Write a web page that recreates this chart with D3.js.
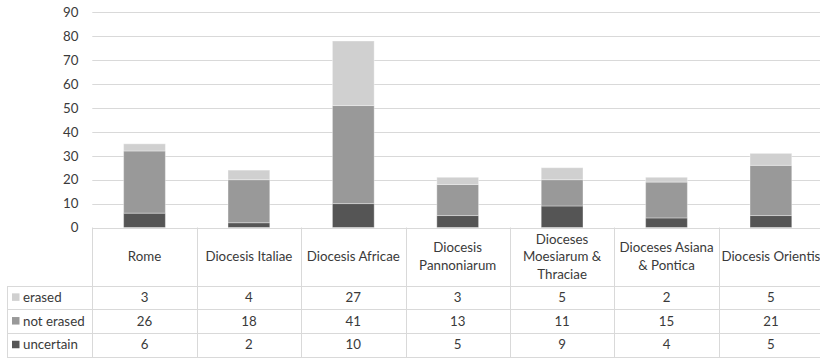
<!DOCTYPE html>
<html>
<head>
<meta charset="utf-8">
<script src="https://cdn.jsdelivr.net/npm/d3@7"></script>
<style>
  html, body { margin: 0; padding: 0; background: #fff; }
  svg { display: block; font-family: Lato, "Open Sans", sans-serif; }
</style>
</head>
<body>
<svg id="chart" width="820" height="359"></svg>
<script>
// Regions (column headers, wrapped as they appear in the table)
const categories = ["Rome", "Diocesis Italiae", "Diocesis Africae", "Diocesis Pannoniarum",
  "Dioceses Moesiarum & Thraciae", "Dioceses Asiana & Pontica", "Diocesis Orientis"];
const headerLines = [["Rome"], ["Diocesis Italiae"], ["Diocesis Africae"], ["Diocesis", "Pannoniarum"],
  ["Dioceses", "Moesiarum &", "Thraciae"], ["Dioceses Asiana", "& Pontica"], ["Diocesis Orientis"]];

// Series (table order: top row first)
const seriesNames = ["erased", "not erased", "uncertain"];
const erased     = [3, 4, 27, 3, 5, 2, 5];
const notErased  = [26, 18, 41, 13, 11, 15, 21];
const uncertain  = [6, 2, 10, 5, 9, 4, 5];
const seriesColors = ["#d0d0d0", "#999999", "#555555"];

const yTicks = [0, 10, 20, 30, 40, 50, 60, 70, 80, 90];

const seriesValues = { "erased": erased, "not erased": notErased, "uncertain": uncertain };
const rows = categories.map((c, i) => ({ cat: c, "erased": erased[i], "not erased": notErased[i], "uncertain": uncertain[i] }));

const svg = d3.select("#chart");
const textColor = "#3a3a3a";
const lineColor = "#d9d9d9";
const fontSize = 13.3;

// Geometry
const plotLeft = 92.3, plotRight = 823.1;
const yZero = 227.5, yTop = 12.3;
const tableLeft = 7;
const headerBottom = 285.5;
const rowH = 23.7;

const x = d3.scaleBand().domain(categories).range([plotLeft, plotRight]).paddingInner(0.6).paddingOuter(0.3);
const col = d3.scaleBand().domain(categories).range([plotLeft, plotRight]).padding(0);
const y = d3.scaleLinear().domain([0, 90]).range([yZero, yTop]);

// Gridlines
svg.append("g").selectAll("line").data(yTicks).join("line")
  .attr("x1", plotLeft).attr("x2", 820)
  .attr("y1", d => Math.round(y(d)) + 0.5).attr("y2", d => Math.round(y(d)) + 0.5)
  .attr("stroke", lineColor).attr("stroke-width", 1);

// Y axis labels
const yAxis = d3.axisLeft(y).tickValues(yTicks).tickSize(0).tickPadding(0);
const gy = svg.append("g").attr("transform", "translate(78.5,0)").call(yAxis);
gy.select(".domain").remove();
gy.selectAll("text").attr("fill", textColor).style("font-size", fontSize + "px").style("font-family", "Lato, sans-serif");

// Stacked bars: uncertain at bottom, then not erased, then erased
const stackOrder = ["uncertain", "not erased", "erased"];
const stacked = d3.stack().keys(stackOrder)(rows);
svg.append("g").selectAll("g").data(stacked).join("g")
  .attr("fill", d => seriesColors[seriesNames.indexOf(d.key)])
  .selectAll("rect").data(d => d).join("rect")
  .attr("x", d => x(d.data.cat))
  .attr("width", x.bandwidth())
  .attr("y", d => y(d[1]))
  .attr("height", d => y(d[0]) - y(d[1]))
  .attr("stroke", "rgba(255,255,255,0.35)")
  .attr("stroke-width", 1);

// Data table
const table = svg.append("g");
const rowTops = seriesNames.map((s, i) => headerBottom + i * rowH);
const bottom = headerBottom + seriesNames.length * rowH;

// Horizontal rules
[headerBottom, ...rowTops.map(t => t + rowH)].forEach(yy => {
  table.append("line").attr("x1", tableLeft).attr("x2", 820)
    .attr("y1", Math.round(yy) + 0.5).attr("y2", Math.round(yy) + 0.5)
    .attr("stroke", lineColor);
});
// Vertical rules
table.append("line").attr("x1", tableLeft + 0.5).attr("x2", tableLeft + 0.5)
  .attr("y1", Math.round(headerBottom) + 0.5).attr("y2", Math.round(bottom) + 0.5).attr("stroke", lineColor);
categories.forEach(c => {
  const xx = Math.round(col(c)) + 0.5;
  table.append("line").attr("x1", xx).attr("x2", xx)
    .attr("y1", yZero).attr("y2", Math.round(bottom) + 0.5).attr("stroke", lineColor);
});

// Header cells
const lineH = 17.5;
categories.forEach((c, i) => {
  const lines = headerLines[i];
  const cx = col(c) + col.bandwidth() / 2;
  const cy = (yZero + headerBottom) / 2;
  const t = table.append("text").attr("text-anchor", "middle").attr("fill", textColor)
    .style("font-size", fontSize + "px");
  lines.forEach((ln, k) => {
    t.append("tspan").attr("x", cx)
      .attr("y", cy + (k - (lines.length - 1) / 2) * lineH)
      .attr("dy", "0.35em").text(ln);
  });
});

// Row labels with legend keys, and values
seriesNames.forEach((s, r) => {
  const cy = rowTops[r] + rowH / 2;
  table.append("rect").attr("x", 12).attr("y", cy - 4).attr("width", 7.5).attr("height", 7.5)
    .attr("fill", seriesColors[r]);
  table.append("text").attr("x", 23).attr("y", cy).attr("dy", "0.35em")
    .attr("fill", textColor).style("font-size", fontSize + "px").text(s);
  seriesValues[s].forEach((v, i) => {
    table.append("text").attr("x", col(categories[i]) + col.bandwidth() / 2).attr("y", cy)
      .attr("dy", "0.35em").attr("text-anchor", "middle")
      .attr("fill", textColor).style("font-size", fontSize + "px").text(v);
  });
});
</script>
</body>
</html>
